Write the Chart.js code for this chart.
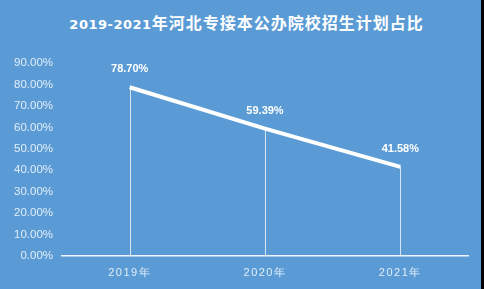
<!DOCTYPE html>
<html>
<head>
<meta charset="utf-8">
<script src="https://cdn.jsdelivr.net/npm/chart.js@4.4.0/dist/chart.umd.min.js"></script>
<style>
  html, body { margin: 0; padding: 0; background: #000; }
  #wrap { position: relative; width: 481px; height: 289px; background: #5b9bd5; overflow: hidden; }
  #title { position: absolute; left: 0; width: 493px; top: 12px; text-align: center; color: #fff; font-weight: bold; white-space: nowrap; line-height: 20px; }
  #title .lat { font-family: "DejaVu Sans", sans-serif; font-size: 13px; letter-spacing: 0.5px; }
  #title .cjk { font-family: "Noto Sans CJK SC", sans-serif; font-size: 16px; letter-spacing: 1px; }
  canvas { position: absolute; left: 0; top: 0; }
</style>
</head>
<body>
<div id="wrap">
  <div id="title"><span class="lat">2019-2021</span><span class="cjk">年河北专接本公办院校招生计划占比</span></div>
  <canvas id="c" width="481" height="289"></canvas>
</div>
<script>
const categories = ['2019年', '2020年', '2021年'];
const values = [78.70, 59.39, 41.58];
const valueLabels = ['78.70%', '59.39%', '41.58%'];
const yTickLabels = ['0.00%', '10.00%', '20.00%', '30.00%', '40.00%', '50.00%', '60.00%', '70.00%', '80.00%', '90.00%'];

const dropLines = {
  id: 'dropLines',
  beforeDatasetsDraw(chart) {
    const ctx = chart.ctx;
    const meta = chart.getDatasetMeta(0);
    const bottom = chart.chartArea.bottom;
    ctx.save();
    ctx.strokeStyle = 'rgba(255,255,255,0.75)';
    ctx.lineWidth = 1;
    meta.data.forEach(p => {
      const x = Math.round(p.x) + 0.5;
      ctx.beginPath();
      ctx.moveTo(x, p.y);
      ctx.lineTo(x, bottom);
      ctx.stroke();
    });
    ctx.restore();
  }
};

const valueLabelPlugin = {
  id: 'valueLabels',
  afterDatasetsDraw(chart) {
    const ctx = chart.ctx;
    const meta = chart.getDatasetMeta(0);
    ctx.save();
    ctx.fillStyle = '#ffffff';
    ctx.font = 'bold 11px "Liberation Sans", sans-serif';
    ctx.textAlign = 'center';
    ctx.textBaseline = 'middle';
    meta.data.forEach((p, i) => {
      ctx.fillText(valueLabels[i], p.x, p.y - 18);
    });
    ctx.restore();
  }
};

const spacedX = {
  id: 'spacedX',
  afterUpdate(chart) {
    const xs = chart.scales.x;
    if (xs && !xs._spacedWrapped) {
      const orig = xs.drawLabels;
      xs.drawLabels = function (area) {
        const ctx = this.ctx;
        ctx.save();
        ctx.letterSpacing = '1.5px';
        orig.call(this, area);
        ctx.restore();
      };
      xs._spacedWrapped = true;
    }
  }
};

new Chart(document.getElementById('c'), {
  type: 'line',
  data: {
    labels: categories,
    datasets: [{
      data: values,
      borderColor: '#ffffff',
      borderWidth: 4,
      pointRadius: 0,
      pointHoverRadius: 0,
      tension: 0,
      fill: false
    }]
  },
  options: {
    responsive: false,
    animation: false,
    events: [],
    layout: { padding: { top: 63, right: 13, bottom: 0, left: 0 } },
    plugins: {
      legend: { display: false },
      tooltip: { enabled: false },
      title: { display: false }
    },
    scales: {
      x: {
        offset: true,
        grid: { display: false, drawTicks: false },
        border: { display: true, color: 'rgba(255,255,255,0.9)', width: 1.5 },
        ticks: {
          color: '#e2edf8',
          font: { family: '"Liberation Sans", sans-serif', size: 11 },
          padding: 10,
          maxRotation: 0
        },
        afterFit(s) { s.height = 33; }
      },
      y: {
        min: 0,
        max: 90,
        grid: { display: false, drawTicks: false },
        border: { display: false },
        ticks: {
          stepSize: 10,
          color: '#e2edf8',
          font: { family: '"Liberation Sans", sans-serif', size: 11.5 },
          padding: 9,
          callback: (v, i) => yTickLabels[i]
        },
        afterFit(s) { s.width = 62; }
      }
    }
  },
  plugins: [dropLines, valueLabelPlugin, spacedX]
});
</script>
</body>
</html>
